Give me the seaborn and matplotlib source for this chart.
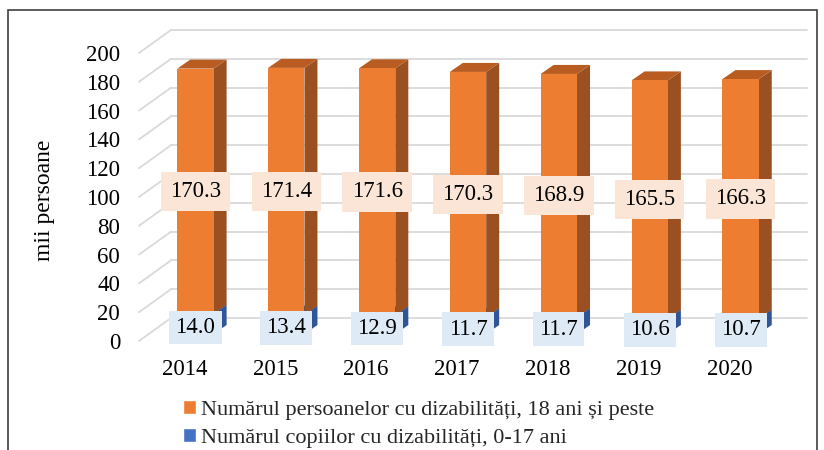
import matplotlib
matplotlib.use('Agg')
import matplotlib.pyplot as plt
import matplotlib.transforms as mtransforms
from matplotlib.patches import Polygon, Rectangle, Patch
import seaborn as sns

# data
years = ['2014', '2015', '2016', '2017', '2018', '2019', '2020']
adults = [170.3, 171.4, 171.6, 170.3, 168.9, 165.5, 166.3]
children = [14.0, 13.4, 12.9, 11.7, 11.7, 10.6, 10.7]
y_ticks = [0, 20, 40, 60, 80, 100, 120, 140, 160, 180, 200]
legend_labels = ['Numărul persoanelor cu dizabilități, 18 ani și peste',
                 'Numărul copiilor cu dizabilități, 0-17 ani']
totals = [a + c for a, c in zip(adults, children)]

ORANGE, ORANGE_SIDE, ORANGE_TOP = '#ED7D31', '#9A5020', '#B85C22'
BLUE, BLUE_SIDE = '#4472C4', '#2F5597'
GRID = '#d9d9d9'

sns.set_theme(style='white')
plt.rcParams['font.family'] = ['Liberation Serif', 'DejaVu Serif']

W, H = 824, 450
fig = plt.figure(figsize=(W / 100, H / 100), dpi=100)
# axes spans the plane of the bars' front faces (pixel box)
ax_l, ax_r, ax_t, ax_b = 150, 786, 46, 334
ax = fig.add_axes([ax_l / W, 1 - ax_b / H, (ax_r - ax_l) / W, (ax_b - ax_t) / H])

sns.barplot(x=years, y=totals, color=ORANGE, width=0.4, saturation=1,
            linewidth=0, ax=ax, zorder=3)
sns.barplot(x=years, y=children, color=BLUE, width=0.4, saturation=1,
            linewidth=0, ax=ax, zorder=3)
ax.set_xlim(-0.5, 6.5)
ax.set_ylim(0, 200)

# pixel -> data units
px_x = (ax_r - ax_l) / 7
px_y = (ax_b - ax_t) / 200.0

# back wall and side-wall gridlines
bx, by = 21 / px_x, 16 / px_y
fx, fy = -11 / px_x, -7 / px_y
for t in y_ticks:
    ax.plot([-0.5 + bx, 6.5 + bx], [t + by, t + by], color=GRID, lw=1.3,
            clip_on=False, zorder=0)
    ax.plot([-0.5 + fx, -0.5 + bx], [t + fy, t + by], color=GRID, lw=1.3,
            clip_on=False, zorder=0)

# 3d faces of the bars
dx, dy = 13 / px_x, 9 / px_y
bars = ax.patches[:len(years)]
for i, p in enumerate(bars):
    x0, x1 = p.get_x(), p.get_x() + p.get_width()
    segs = [(0, children[i], BLUE_SIDE, BLUE_SIDE),
            (children[i], totals[i], ORANGE_SIDE, ORANGE_TOP)]
    for bot, top, side_c, top_c in segs:
        ax.add_patch(Polygon([(x1, bot), (x1 + dx, bot + dy), (x1 + dx, top + dy), (x1, top)],
                             closed=True, fc=side_c, ec='none', zorder=2, clip_on=False))
        ax.add_patch(Polygon([(x0, top), (x1, top), (x1 + dx, top + dy), (x0 + dx, top + dy)],
                             closed=True, fc=top_c, ec='none', zorder=2, clip_on=False))

# data labels
for i in range(len(years)):
    ax.text(i, (children[i] + totals[i]) / 2, f'{adults[i]:.1f}', ha='center', va='center',
            fontsize=16.5, color='black', zorder=5,
            bbox=dict(boxstyle='square,pad=0.4', fc='#FBE5D6', ec='none'))
    ax.text(i, children[i] / 2 - 2.5, f'{children[i]:.1f}', ha='center', va='center',
            fontsize=16.5, color='black', zorder=5,
            bbox=dict(boxstyle='square,pad=0.27', fc='#DEEBF7', ec='none'))

# axes styling
for s in ax.spines.values():
    s.set_visible(False)
ax.set_xlabel('')
ax.set_yticks(y_ticks)
ax.tick_params(axis='y', length=0, pad=21.5, labelsize=16.5, labelcolor='black')
ax.tick_params(axis='x', length=0, pad=18, labelsize=16.5, labelcolor='black')
for lbl in ax.get_yticklabels():
    lbl.set_transform(lbl.get_transform() +
                      mtransforms.ScaledTranslation(0, -0.07, fig.dpi_scale_trans))
for lbl in ax.get_xticklabels():
    lbl.set_transform(lbl.get_transform() +
                      mtransforms.ScaledTranslation(-0.11, 0, fig.dpi_scale_trans))
ax.set_ylabel('mii persoane', fontsize=17, color='black')
ax.yaxis.set_label_coords((55 - ax_l) / (ax_r - ax_l), (ax_b - 200) / (ax_b - ax_t))

handles = [Patch(facecolor=ORANGE), Patch(facecolor=BLUE)]
fig.legend(handles, legend_labels, loc='upper left', bbox_to_anchor=(183 / W, 1 - 400 / H),
           frameon=False, fontsize=16, handlelength=0.6, handleheight=0.6,
           handletextpad=0.2, labelspacing=0.35, borderpad=0, borderaxespad=0)

# chart border
fig.add_artist(Rectangle((8 / W, -0.1), (817 - 8) / W, 1.1 - 10 / H, fill=False,
                         ec='#404040', lw=1.2, transform=fig.transFigure))

fig.savefig('out.png', dpi=100)
